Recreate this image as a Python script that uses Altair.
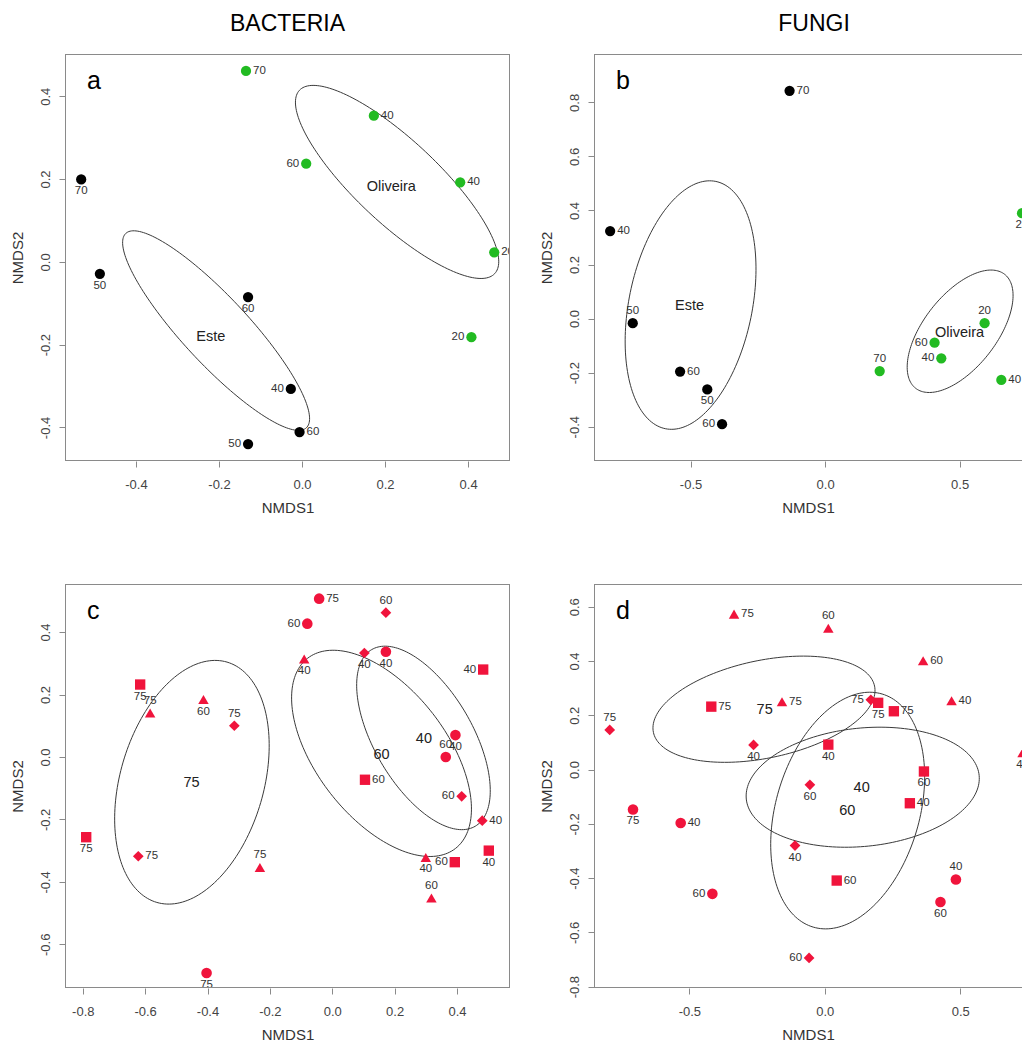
import numpy as np
import pandas as pd
import altair as alt

FONT = "Liberation Sans"
GREEN = "#22bb22"
RED = "#f0143c"
BLACK = "#000000"
FRAME = "#8a8a8a"

# ---------------- Panel a (BACTERIA, site) ----------------
a_x = [-0.135, 0.173, 0.010, 0.381, 0.463, 0.408, -0.532, -0.487, -0.130, -0.027, -0.006, -0.130]
a_y = [0.461, 0.353, 0.237, 0.192, 0.023, -0.182, 0.199, -0.029, -0.085, -0.307, -0.411, -0.440]
a_lab = ["70", "40", "60", "40", "20", "20", "70", "50", "60", "40", "60", "50"]
a_site = ["Oliveira"] * 6 + ["Este"] * 6
a_side = ["r", "r", "l", "r", "r", "l", "b", "b", "b", "l", "r", "l"]
# ellipse: name, cx, cy, semi-major, semi-minor, angle(deg)
a_ell = [("Oliveira", 0.229, 0.193, 0.323, 0.100, -43.3),
         ("Este", -0.207, -0.166, 0.320, 0.080, -47.2)]
a_glab = ["Oliveira", "Este"]
a_gx = [0.215, -0.220]
a_gy = [0.181, -0.182]

# ---------------- Panel b (FUNGI, site) ----------------
b_x = [-0.132, -0.799, -0.715, -0.539, -0.438, -0.383, 0.732, 0.593, 0.407, 0.432, 0.203, 0.655]
b_y = [0.843, 0.324, -0.017, -0.196, -0.262, -0.391, 0.390, -0.017, -0.089, -0.147, -0.194, -0.227]
b_lab = ["70", "40", "50", "60", "50", "60", "20", "20", "60", "40", "70", "40"]
b_site = ["Este"] * 6 + ["Oliveira"] * 6
b_side = ["r", "r", "t", "r", "b", "l", "b", "t", "l", "l", "t", "r"]
b_ell = [("Este", -0.500, 0.050, 0.467, 0.229, 78.4),
         ("Oliveira", 0.502, -0.047, 0.268, 0.135, 51.8)]
b_glab = ["Este", "Oliveira"]
b_gx = [-0.504, 0.500]
b_gy = [0.047, -0.052]

# ---------------- Panel c (BACTERIA, dose) ----------------
c_x = [-0.616, -0.584, -0.413, -0.314, -0.789, -0.622, -0.232, -0.403,
       -0.042, -0.080, 0.172, -0.090, 0.103, 0.172, 0.484, 0.395,
       0.364, 0.105, 0.415, 0.481, 0.300, 0.393, 0.502, 0.318]
c_y = [0.232, 0.141, 0.184, 0.100, -0.257, -0.318, -0.354, -0.692,
       0.507, 0.427, 0.462, 0.314, 0.333, 0.337, 0.280, 0.070,
       0.000, -0.073, -0.126, -0.204, -0.322, -0.337, -0.300, -0.452]
c_lab = ["75", "75", "60", "75", "75", "75", "75", "75",
         "75", "60", "60", "40", "40", "40", "40", "40",
         "60", "60", "60", "40", "40", "60", "40", "60"]
c_shape = ["sq", "tri", "tri", "sm", "sq", "sm", "tri", "ci",
           "ci", "ci", "sm", "tri", "sm", "ci", "sq", "ci",
           "ci", "sq", "sm", "sm", "tri", "sq", "sq", "tri"]
c_side = ["b", "t", "b", "t", "b", "r", "t", "b",
          "r", "l", "t", "b", "b", "b", "l", "b",
          "t", "r", "l", "r", "b", "l", "b", "t"]
c_ell = [("75", -0.450, -0.081, 0.401, 0.230, 73.7),
         ("60", 0.158, 0.0115, 0.386, 0.208, -52.1),
         ("40", 0.2925, 0.061, 0.328, 0.157, -59.6)]
c_glab = ["75", "60", "40"]
c_gx = [-0.451, 0.158, 0.294]
c_gy = [-0.083, 0.007, 0.059]

# ---------------- Panel d (FUNGI, dose) ----------------
d_x = [-0.335, -0.419, -0.158, -0.794, -0.263, -0.708, -0.532, -0.415,
       0.013, 0.363, 0.468, 0.170, 0.197, 0.255, 0.013, 0.730,
       -0.055, 0.366, 0.314, -0.110, 0.044, 0.484, 0.427, -0.058]
d_y = [0.573, 0.232, 0.250, 0.146, 0.091, -0.147, -0.197, -0.458,
       0.521, 0.401, 0.254, 0.257, 0.246, 0.215, 0.092, 0.062,
       -0.056, -0.007, -0.124, -0.280, -0.409, -0.405, -0.488, -0.694]
d_lab = ["75", "75", "75", "75", "40", "75", "40", "60",
         "60", "60", "40", "75", "75", "75", "40", "40",
         "60", "60", "40", "40", "60", "40", "60", "60"]
d_shape = ["tri", "sq", "tri", "sm", "sm", "ci", "ci", "ci",
           "tri", "tri", "tri", "sm", "sq", "sq", "sq", "tri",
           "sm", "sq", "sq", "sm", "sq", "ci", "ci", "sm"]
d_side = ["r", "r", "r", "t", "b", "b", "r", "l",
          "t", "r", "r", "l", "b", "r", "b", "b",
          "b", "b", "r", "b", "r", "t", "b", "l"]
d_ell = [("75", -0.2245, 0.2225, 0.417, 0.180, 11.8),
         ("40", 0.140, -0.065, 0.432, 0.218, 5.8),
         ("60", 0.0845, -0.151, 0.448, 0.265, 73.5)]
d_glab = ["75", "40", "60"]
d_gx = [-0.222, 0.136, 0.083]
d_gy = [0.220, -0.069, -0.153]

MINUS = "\u2212"
LABEL_EXPR = "replace(format(datum.value, '.1f'), '" + MINUS + "', '-')"

SHAPE_DOM = ["big", "sq", "tri", "ci", "sm"]
SHAPE_RNG = ["circle", "square", "triangle-up", "circle", "diamond"]
SIZE_RNG = [105, 115, 125, 115, 48]

AXIS_STYLE = dict(grid=False, domain=False, tickColor=FRAME, tickSize=6,
                  labelFont=FONT, labelFontSize=13, labelColor="#444444",
                  titleFont=FONT, titleFontSize=15, titleFontWeight="normal",
                  titleColor="#333333")


def ellipse_df(ells):
    rows = []
    t = np.linspace(0, 2 * np.pi, 181)
    for name, cx, cy, a, b, ang in ells:
        th = np.radians(ang)
        xs = cx + a * np.cos(t) * np.cos(th) - b * np.sin(t) * np.sin(th)
        ys = cy + a * np.cos(t) * np.sin(th) + b * np.sin(t) * np.cos(th)
        for i, (x, y) in enumerate(zip(xs, ys)):
            rows.append({"x": float(x), "y": float(y), "ell": name, "o": i})
    return pd.DataFrame(rows)


SIDES = {
    "r": dict(dx=7, dy=0, align="left", baseline="middle"),
    "l": dict(dx=-7, dy=0, align="right", baseline="middle"),
    "t": dict(dx=0, dy=-7, align="center", baseline="bottom"),
    "b": dict(dx=0, dy=6, align="center", baseline="top"),
}

ONE = pd.DataFrame({"k": [0]})


def frame_layers(w, h, right=True):
    out = [
        alt.Chart(ONE).mark_rule(color=FRAME, strokeWidth=1).encode(
            x=alt.value(0), x2=alt.value(w), y=alt.value(0.5)),
        alt.Chart(ONE).mark_rule(color=FRAME, strokeWidth=1).encode(
            x=alt.value(0), x2=alt.value(w), y=alt.value(h - 0.5)),
        alt.Chart(ONE).mark_rule(color=FRAME, strokeWidth=1).encode(
            x=alt.value(0.5), y=alt.value(0), y2=alt.value(h)),
    ]
    if right:
        out.append(alt.Chart(ONE).mark_rule(color=FRAME, strokeWidth=1).encode(
            x=alt.value(w - 0.5), y=alt.value(0), y2=alt.value(h)))
    return out


def panel(df, ells, gdf, xdom, ydom, xt, yt, w, h, letter, title=None, title_dx=0, right=True):
    xs = alt.Scale(domain=xdom, nice=False, zero=False)
    ys = alt.Scale(domain=ydom, nice=False, zero=False)
    xax = alt.Axis(values=xt, title="NMDS1", labelExpr=LABEL_EXPR,
                   labelPadding=11, titlePadding=9, **AXIS_STYLE)
    yax = alt.Axis(values=yt, title="NMDS2", labelExpr=LABEL_EXPR,
                   labelAngle=270, labelAlign="center", labelBaseline="bottom",
                   labelPadding=7, titlePadding=14, **AXIS_STYLE)
    X = alt.X("x:Q", scale=xs, axis=xax)
    Y = alt.Y("y:Q", scale=ys, axis=yax)

    ell = alt.Chart(ellipse_df(ells)).mark_line(
        color="#3a3a3a", strokeWidth=1, clip=True
    ).encode(x=X, y=Y, detail="ell:N", order="o:Q")

    pts = alt.Chart(df).mark_point(
        filled=True, opacity=1, clip=True, strokeWidth=0
    ).encode(
        x=X, y=Y,
        shape=alt.Shape("shape:N", scale=alt.Scale(domain=SHAPE_DOM, range=SHAPE_RNG), legend=None),
        size=alt.Size("shape:N", scale=alt.Scale(domain=SHAPE_DOM, range=SIZE_RNG), legend=None),
        color=alt.Color("col:N", scale=None),
    )

    layers = [ell, pts]
    for side, kw in SIDES.items():
        layers.append(
            alt.Chart(df).transform_filter(alt.datum.side == side).mark_text(
                font=FONT, fontSize=11.5, color="#333333", clip=True, **kw
            ).encode(x=X, y=Y, text="lab:N")
        )

    layers.append(
        alt.Chart(gdf).mark_text(font=FONT, fontSize=14.5, color="#222222",
                                 align="center", baseline="middle").encode(
            x=X, y=Y, text="g:N")
    )

    layers.append(
        alt.Chart(pd.DataFrame({"t": [letter]})).mark_text(
            font=FONT, fontSize=25, color="black", align="left", baseline="middle"
        ).encode(x=alt.value(22), y=alt.value(27), text="t:N")
    )
    layers += frame_layers(w, h, right)

    props = dict(width=w, height=h)
    if title:
        props["title"] = alt.TitleParams(title, font=FONT, fontSize=23, fontWeight="normal",
                                         color="black", anchor="middle", offset=18, dx=title_dx)
    return alt.layer(*layers).properties(**props)


def site_df(xv, yv, lab, site, side):
    col = [GREEN if s == "Oliveira" else BLACK for s in site]
    return pd.DataFrame({"x": xv, "y": yv, "lab": lab, "col": col,
                         "shape": ["big"] * len(xv), "side": side})


def dose_df(xv, yv, lab, shape, side):
    return pd.DataFrame({"x": xv, "y": yv, "lab": lab, "col": [RED] * len(xv),
                         "shape": shape, "side": side})


pa = panel(site_df(a_x, a_y, a_lab, a_site, a_side), a_ell,
           pd.DataFrame({"x": a_gx, "y": a_gy, "g": a_glab}),
           [-0.571, 0.501], [-0.481, 0.502],
           [-0.4, -0.2, 0.0, 0.2, 0.4], [-0.4, -0.2, 0.0, 0.2, 0.4],
           445, 407, "a", "BACTERIA", 0, True)
pb = panel(site_df(b_x, b_y, b_lab, b_site, b_side), b_ell,
           pd.DataFrame({"x": b_gx, "y": b_gy, "g": b_glab}),
           [-0.859, 0.732], [-0.527, 0.979],
           [-0.5, 0.0, 0.5], [-0.4, -0.2, 0.0, 0.2, 0.4, 0.6, 0.8],
           428, 407, "b", "FUNGI", 6, False)
pc = panel(dose_df(c_x, c_y, c_lab, c_shape, c_side), c_ell,
           pd.DataFrame({"x": c_gx, "y": c_gy, "g": c_glab}),
           [-0.857, 0.570], [-0.740, 0.554],
           [-0.8, -0.6, -0.4, -0.2, 0.0, 0.2, 0.4], [-0.6, -0.4, -0.2, 0.0, 0.2, 0.4],
           445, 404, "c", None, 0, True)
pd_ = panel(dose_df(d_x, d_y, d_lab, d_shape, d_side), d_ell,
            pd.DataFrame({"x": d_gx, "y": d_gy, "g": d_glab}),
            [-0.852, 0.728], [-0.805, 0.684],
            [-0.5, 0.0, 0.5], [-0.8, -0.6, -0.4, -0.2, 0.0, 0.2, 0.4, 0.6],
            428, 404, "d", None, 0, False)

top = alt.hconcat(pa, pb, spacing=28)
bottom = alt.hconcat(pc, pd_, spacing=28)

chart = alt.vconcat(top, bottom, spacing=68, background="white").properties(
    padding={"left": 2, "top": 4, "right": 0, "bottom": 0}
).configure_view(
    strokeWidth=0
)

chart.save("out.html", embed_options={"renderer": "svg", "actions": False})
